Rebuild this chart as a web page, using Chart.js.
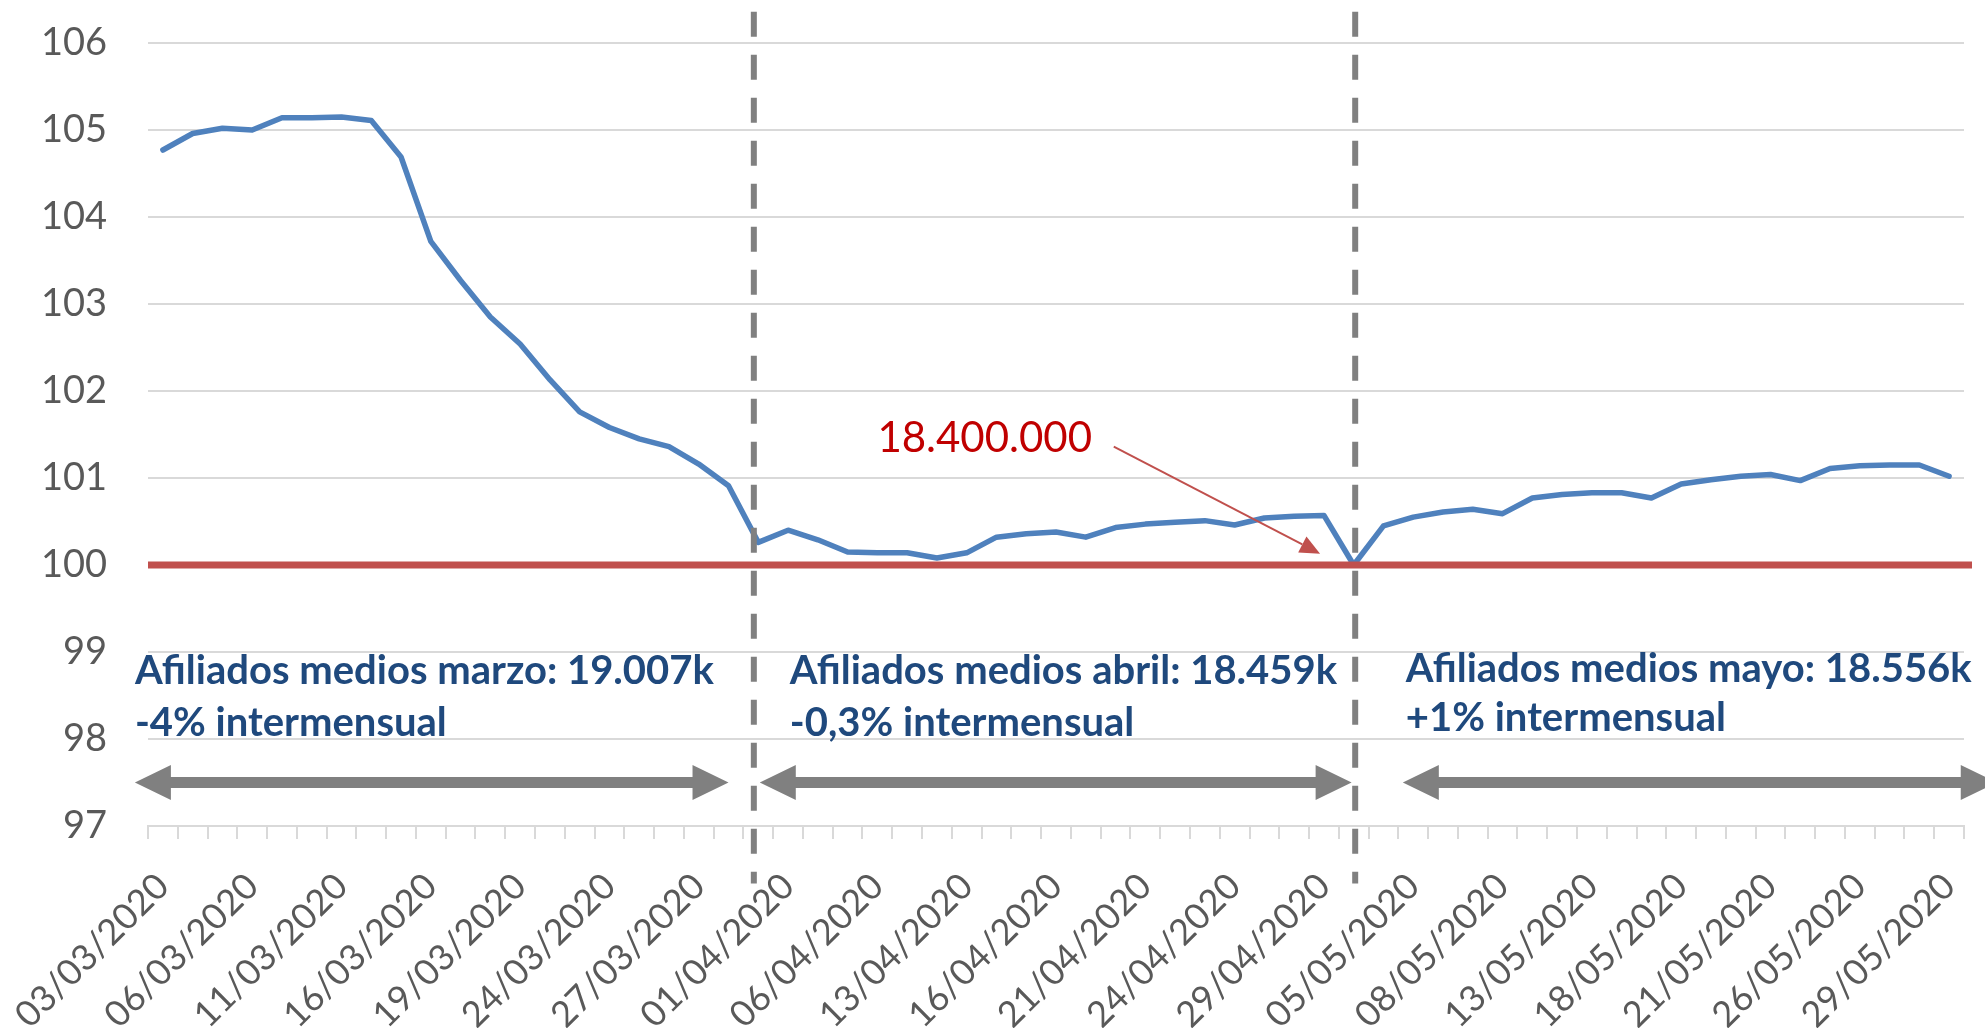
<!DOCTYPE html>
<html>
<head>
<meta charset="utf-8">
<script src="https://cdn.jsdelivr.net/npm/chart.js@4.4.1/dist/chart.umd.min.js"></script>
<style>
  html, body { margin: 0; padding: 0; background: #fff; }
  #wrap { width: 1985px; height: 1028px; }
</style>
</head>
<body>
<div id="wrap"><canvas id="afiliadosChart"></canvas></div>
<script>
// dias habiles de marzo a mayo 2020
const fechas = [
  '03/03/2020','04/03/2020','05/03/2020','06/03/2020','09/03/2020','10/03/2020','11/03/2020',
  '12/03/2020','13/03/2020','16/03/2020','17/03/2020','18/03/2020','19/03/2020','20/03/2020',
  '23/03/2020','24/03/2020','25/03/2020','26/03/2020','27/03/2020','30/03/2020','31/03/2020',
  '01/04/2020','02/04/2020','03/04/2020','06/04/2020','07/04/2020','08/04/2020','13/04/2020',
  '14/04/2020','15/04/2020','16/04/2020','17/04/2020','20/04/2020','21/04/2020','22/04/2020',
  '23/04/2020','24/04/2020','27/04/2020','28/04/2020','29/04/2020','30/04/2020',
  '04/05/2020','05/05/2020','06/05/2020','07/05/2020','08/05/2020','11/05/2020','12/05/2020',
  '13/05/2020','14/05/2020','15/05/2020','18/05/2020','19/05/2020','20/05/2020','21/05/2020',
  '22/05/2020','25/05/2020','26/05/2020','27/05/2020','28/05/2020','29/05/2020'
];

// indice de afiliados (18.400.000 = 100)
const indiceMarzo = [
  104.77, 104.96, 105.02, 105.00, 105.14, 105.14, 105.15, 105.11, 104.69, 103.72,
  103.27, 102.85, 102.54, 102.13, 101.76, 101.58, 101.45, 101.36, 101.16, 100.91, 100.26
];
const indiceAbril = [
  100.40, 100.29, 100.15, 100.14, 100.14, 100.08, 100.14, 100.32, 100.36, 100.38,
  100.32, 100.43, 100.47, 100.49, 100.51, 100.46, 100.54, 100.56, 100.57, 100.00
];
const indiceMayo = [
  100.45, 100.55, 100.61, 100.64, 100.59, 100.77, 100.81, 100.83, 100.83, 100.77,
  100.93, 100.98, 101.02, 101.04, 100.97, 101.11, 101.14, 101.15, 101.15, 101.02
];
const indice = indiceMarzo.concat(indiceAbril, indiceMayo);

const nivelBase = 100;
const nivelBaseTexto = '18.400.000';
const yTicks = [97, 98, 99, 100, 101, 102, 103, 104, 105, 106];

const resumenMes = [
  ['Afiliados medios marzo: 19.007k', '-4% intermensual'],
  ['Afiliados medios abril: 18.459k', '-0,3% intermensual'],
  ['Afiliados medios mayo: 18.556k', '+1% intermensual']
];

// posiciones de las anotaciones en unidades de los ejes (indice de categoria, valor)
const notas = {
  cortesMes: [19.85, 40.05],
  cortesDesde: 106.36, cortesHasta: 96.34,
  flechasMes: [[-0.94, 19.0], [20.05, 39.93], [41.65, 61.6]],
  flechasY: 97.5,
  textoMes: [
    { x: -0.94, y1: 98.63, y2: 98.03 },
    { x: 21.06, y1: 98.63, y2: 98.03 },
    { x: 41.75, y1: 98.66, y2: 98.09 }
  ],
  textoBase: { x: 24.0, y: 101.30 },
  flechaBase: { x0: 31.94, y0: 101.36, x1: 38.87, y1: 100.13 }
};

const gris = '#808080';

function flechaDoble(ctx, xa, xb, y) {
  const grosor = 11, punta = 36, alto = 35;
  ctx.beginPath();
  ctx.moveTo(xa, y);
  ctx.lineTo(xa + punta, y - alto / 2);
  ctx.lineTo(xa + punta, y - grosor / 2);
  ctx.lineTo(xb - punta, y - grosor / 2);
  ctx.lineTo(xb - punta, y - alto / 2);
  ctx.lineTo(xb, y);
  ctx.lineTo(xb - punta, y + alto / 2);
  ctx.lineTo(xb - punta, y + grosor / 2);
  ctx.lineTo(xa + punta, y + grosor / 2);
  ctx.lineTo(xa + punta, y + alto / 2);
  ctx.closePath();
  ctx.fill();
}

const anotaciones = {
  id: 'anotaciones',
  afterDatasetsDraw(chart) {
    const ctx = chart.ctx;
    const xs = chart.scales.x, ys = chart.scales.y;
    const area = chart.chartArea;
    const px = v => xs.getPixelForValue(v);
    const py = v => ys.getPixelForValue(v);
    ctx.save();

    // linea de referencia 100
    ctx.strokeStyle = '#C0504D';
    ctx.lineWidth = 7;
    ctx.beginPath();
    ctx.moveTo(area.left, py(nivelBase));
    ctx.lineTo(area.right + 8, py(nivelBase));
    ctx.stroke();

    // texto y flecha roja
    ctx.fillStyle = '#C00000';
    ctx.font = '42px Lato';
    ctx.textAlign = 'left';
    ctx.textBaseline = 'alphabetic';
    ctx.fillText(nivelBaseTexto, px(notas.textoBase.x), py(notas.textoBase.y));

    const f = notas.flechaBase;
    const ax = px(f.x0), ay = py(f.y0), bx = px(f.x1), by = py(f.y1);
    const ang = Math.atan2(by - ay, bx - ax);
    const largo = 20, ancho = 9;
    ctx.strokeStyle = '#C0504D';
    ctx.fillStyle = '#C0504D';
    ctx.lineWidth = 2;
    ctx.beginPath();
    ctx.moveTo(ax, ay);
    ctx.lineTo(bx - Math.cos(ang) * largo, by - Math.sin(ang) * largo);
    ctx.stroke();
    ctx.beginPath();
    ctx.moveTo(bx, by);
    ctx.lineTo(bx - Math.cos(ang) * largo - Math.sin(ang) * ancho, by - Math.sin(ang) * largo + Math.cos(ang) * ancho);
    ctx.lineTo(bx - Math.cos(ang) * largo + Math.sin(ang) * ancho, by - Math.sin(ang) * largo - Math.cos(ang) * ancho);
    ctx.closePath();
    ctx.fill();

    // textos de cada mes
    ctx.fillStyle = '#1F497D';
    ctx.font = 'bold 40px Lato';
    resumenMes.forEach((lineas, i) => {
      const t = notas.textoMes[i];
      ctx.fillText(lineas[0], px(t.x), py(t.y1));
      ctx.fillText(lineas[1], px(t.x), py(t.y2));
    });

    // flechas dobles
    ctx.fillStyle = gris;
    notas.flechasMes.forEach(([a, b]) => flechaDoble(ctx, px(a), px(b), py(notas.flechasY)));

    // cortes de mes
    ctx.strokeStyle = gris;
    ctx.lineWidth = 6;
    ctx.setLineDash([25, 18]);
    notas.cortesMes.forEach(c => {
      ctx.beginPath();
      ctx.moveTo(px(c), py(notas.cortesDesde));
      ctx.lineTo(px(c), py(notas.cortesHasta));
      ctx.stroke();
    });
    ctx.restore();
  }
};

new Chart(document.getElementById('afiliadosChart'), {
  type: 'line',
  data: {
    labels: fechas,
    datasets: [{
      label: 'Afiliados',
      data: indice,
      borderColor: '#4F81BD',
      borderWidth: 5.5,
      pointRadius: 0,
      tension: 0,
      borderJoinStyle: 'round',
      borderCapStyle: 'round',
      clip: false
    }]
  },
  options: {
    responsive: true,
    maintainAspectRatio: false,
    animation: false,
    layout: { padding: { top: 43, right: 21, left: 0, bottom: 0 } },
    plugins: {
      legend: { display: false },
      tooltip: { enabled: false }
    },
    scales: {
      x: {
        offset: true,
        grid: { offset: true, drawOnChartArea: false, color: '#D9D9D9', lineWidth: 2, tickLength: 13 },
        border: { color: '#D9D9D9', width: 2 },
        ticks: {
          autoSkip: false,
          minRotation: 45,
          maxRotation: 45,
          color: '#595959',
          padding: 26,
          font: { family: 'Lato', size: 36 },
          callback: (v, i) => (i % 3 === 0 ? fechas[i] : '')
        },
        afterFit: s => { s.height = 202; s.paddingLeft = 0; s.paddingRight = 0; }
      },
      y: {
        min: 97,
        max: 106,
        afterBuildTicks: s => { s.ticks = yTicks.map(v => ({ value: v })); },
        ticks: { color: '#595959', padding: 0, font: { family: 'Lato', size: 38 } },
        // marcas invisibles: solo separan las etiquetas del area
        grid: { color: '#D9D9D9', lineWidth: 2, tickLength: 41, tickColor: 'rgba(0,0,0,0)' },
        border: { display: false },
        afterFit: s => { s.width = 148; }
      }
    }
  },
  plugins: [anotaciones]
});
</script>
</body>
</html>
